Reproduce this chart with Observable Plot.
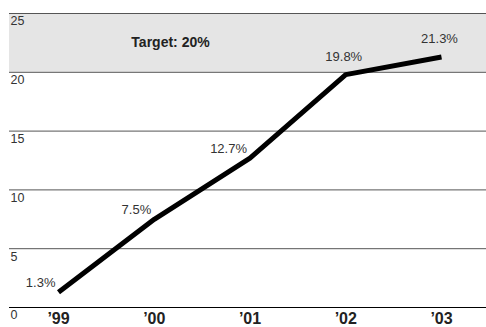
<!DOCTYPE html>
<html>
<head>
<meta charset="utf-8">
<script src="https://cdn.jsdelivr.net/npm/d3@7"></script>
<script src="https://cdn.jsdelivr.net/npm/@observablehq/plot@0.6"></script>
<style>
  html, body { margin: 0; padding: 0; background: #fff; }
  svg { display: block; }
</style>
</head>
<body>
<div id="chart"></div>
<script>
const years = [1999, 2000, 2001, 2002, 2003];
const yearLabels = ["’99", "’00", "’01", "’02", "’03"];
const values = [1.3, 7.5, 12.7, 19.8, 21.3];
const valueLabels = ["1.3%", "7.5%", "12.7%", "19.8%", "21.3%"];
const yTicks = [0, 5, 10, 15, 20, 25];
const targetBand = [{lo: 20, hi: 25, label: "Target: 20%"}];

const data = years.map((y, i) => ({year: y, value: values[i], label: valueLabels[i]}));
const lower = data.slice(0, 3);
const upper = data.slice(3);

const chart = Plot.plot({
  width: 486,
  height: 327,
  marginLeft: 9,
  marginRight: 0,
  marginTop: 13,
  marginBottom: 20,
  style: {fontFamily: "'Liberation Sans', Arial, Helvetica, sans-serif", color: "#333", background: "#fff"},
  x: {domain: [1999, 2003], range: [58, 441]},
  y: {domain: [0, 25], axis: null},
  marks: [
    Plot.rect(targetBand, {y1: "lo", y2: "hi", fill: "#e5e5e5"}),
    Plot.ruleY(yTicks.filter(d => d !== 0), {stroke: "#555", strokeWidth: 1}),
    Plot.ruleY([0], {stroke: "#000", strokeWidth: 1.2}),
    Plot.text(yTicks, {y: d => d, text: d => String(d), frameAnchor: "left", textAnchor: "start", lineAnchor: "top", dx: 1, dy: 3, fontSize: 12.5, fill: "#333"}),
    Plot.text(targetBand, {y: d => (d.lo + d.hi) / 2, text: "label", frameAnchor: "left", textAnchor: "middle", dx: 161, fontSize: 14, fontWeight: "bold", fill: "#222"}),
    Plot.line(data, {x: "year", y: "value", stroke: "#000", strokeWidth: 5, strokeLinejoin: "miter", strokeLinecap: "butt"}),
    Plot.text(lower, {x: "year", y: "value", text: "label", textAnchor: "end", dx: -3, dy: -9, fontSize: 13, fill: "#333"}),
    Plot.text(upper, {x: "year", y: "value", text: "label", textAnchor: "middle", dx: -2, dy: -18, fontSize: 13, fill: "#333"}),
    Plot.axisX({ticks: years, tickFormat: d => yearLabels[years.indexOf(d)], tickSize: 0, tickPadding: 5, fontWeight: "bold", fontSize: 16, fill: "#222", label: null})
  ]
});
document.getElementById("chart").appendChild(chart);
</script>
</body>
</html>
